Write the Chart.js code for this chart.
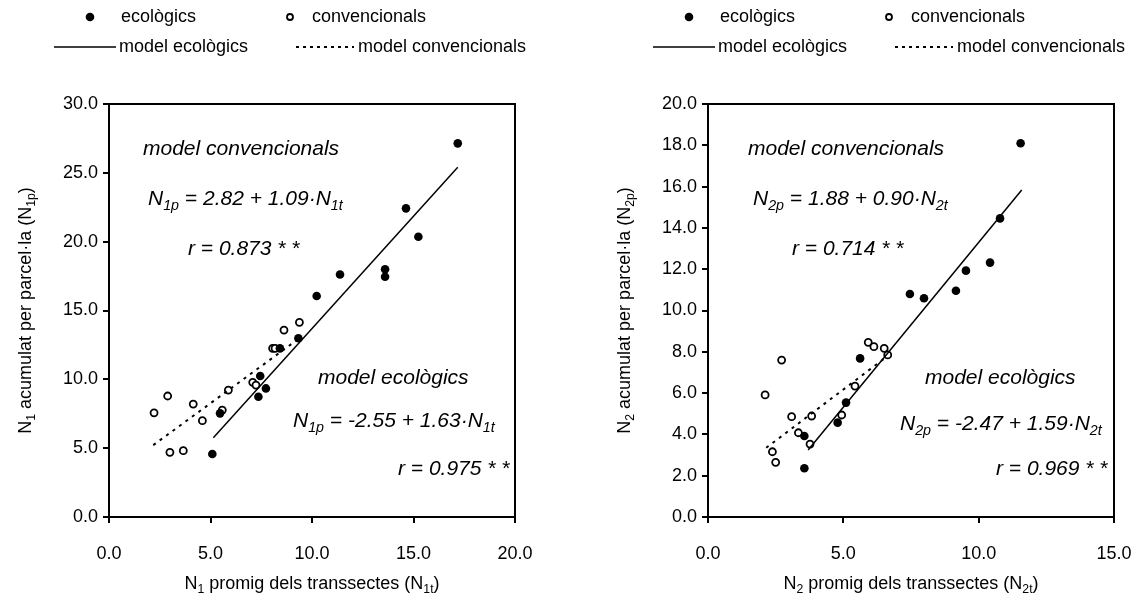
<!DOCTYPE html>
<html><head><meta charset="utf-8">
<script src="https://cdn.jsdelivr.net/npm/chart.js@4.4.1/dist/chart.umd.min.js"></script>
<style>
html,body{margin:0;padding:0;background:#fff;}
body{width:1141px;height:604px;overflow:hidden;position:relative;}
canvas{position:absolute;top:0;}
#cl{left:0;}
#cr{left:570px;}
</style></head><body>
<canvas id="cl" width="570" height="604"></canvas>
<canvas id="cr" width="571" height="604"></canvas>
<script>
// ---------- DATA ----------
// Panel N1
const n1EcoX  = [5.09, 5.47, 7.36, 7.45, 7.73, 8.42, 9.33, 10.23, 11.38, 13.6, 13.6, 14.63, 15.24, 17.18];
const n1EcoY  = [4.58, 7.53, 8.74, 10.24, 9.34, 12.25, 12.98, 16.05, 17.62, 18.0, 17.45, 22.42, 20.36, 27.14];
const n1ConvX = [2.22, 2.89, 3.0, 3.66, 4.15, 4.6, 5.58, 5.88, 7.08, 7.24, 8.06, 8.18, 8.62, 9.38];
const n1ConvY = [7.57, 8.79, 4.70, 4.82, 8.2, 7.0, 7.77, 9.22, 9.78, 9.58, 12.25, 12.25, 13.58, 14.14];
const n1ModelEcoX  = [5.14, 17.18];
const n1ModelEcoY  = [5.75, 25.4];
const n1ModelConvX = [2.18, 9.3];
const n1ModelConvY = [5.22, 12.9];
const n1XTicks = [0, 5, 10, 15, 20];
const n1YTicks = [0, 5, 10, 15, 20, 25, 30];
// Panel N2
const n2EcoX  = [3.56, 3.56, 4.79, 5.10, 5.62, 7.46, 7.98, 9.16, 9.53, 10.42, 10.79, 11.55];
const n2EcoY  = [3.92, 2.36, 4.57, 5.54, 7.68, 10.80, 10.59, 10.96, 11.93, 12.32, 14.46, 18.10];
const n2ConvX = [2.72, 2.11, 3.09, 3.83, 3.34, 3.77, 2.38, 2.50, 4.94, 5.43, 5.92, 6.13, 6.51, 6.64];
const n2ConvY = [7.60, 5.91, 4.86, 4.89, 4.08, 3.53, 3.16, 2.65, 4.94, 6.34, 8.46, 8.25, 8.17, 7.85];
const n2ModelEcoX  = [3.70, 11.59];
const n2ModelEcoY  = [3.24, 15.84];
const n2ModelConvX = [2.15, 6.62];
const n2ModelConvY = [3.35, 7.78];
const n2XTicks = [0, 5, 10, 15];
const n2YTicks = [0, 2, 4, 6, 8, 10, 12, 14, 16, 18, 20];

const legendLabels = ["ecològics", "convencionals", "model ecològics", "model convencionals"];

// ---------- HELPERS ----------
const FAM = '"Liberation Sans", Arial, sans-serif';
const pts = (xs, ys) => xs.map((x, i) => ({x: x, y: ys[i]}));

function drawRich(ctx, x, y, parts, size, italic, align) {
  const f = s => (italic ? 'italic ' : '') + s + 'px ' + FAM;
  let w = 0;
  parts.forEach(([t, sub]) => { ctx.font = f(sub ? size * 0.68 : size); w += ctx.measureText(t).width; });
  let cx = align === 'center' ? x - w / 2 : x;
  ctx.textAlign = 'left';
  ctx.textBaseline = 'alphabetic';
  ctx.fillStyle = '#000';
  parts.forEach(([t, sub]) => {
    ctx.font = f(sub ? size * 0.68 : size);
    ctx.fillText(t, cx, y + (sub ? size * 0.22 : 0));
    cx += ctx.measureText(t).width;
  });
}

const framePlugin = {
  id: 'frame',
  afterDraw(chart) {
    const {ctx, chartArea: a} = chart;
    ctx.save();
    ctx.strokeStyle = '#000';
    ctx.lineWidth = 2;
    ctx.beginPath();
    ctx.moveTo(a.left, a.top); ctx.lineTo(a.right, a.top); ctx.lineTo(a.right, a.bottom);
    ctx.stroke();
    ctx.restore();
  }
};

const textPlugin = {
  id: 'texts',
  afterDraw(chart, args, o) {
    const ctx = chart.ctx;
    ctx.save();
    const d = o.dx;
    ctx.fillStyle = '#000';
    ctx.beginPath(); ctx.arc(90 + d, 17, 4.3, 0, Math.PI * 2); ctx.fill();
    ctx.beginPath(); ctx.arc(290 + d, 17, 3, 0, Math.PI * 2);
    ctx.lineWidth = 1.8; ctx.strokeStyle = '#000'; ctx.stroke();
    ctx.lineWidth = 1.5;
    ctx.beginPath(); ctx.moveTo(54 + d, 47); ctx.lineTo(116 + d, 47); ctx.stroke();
    ctx.setLineDash([3, 4]); ctx.lineWidth = 2;
    ctx.beginPath(); ctx.moveTo(296 + d, 47); ctx.lineTo(354 + d, 47); ctx.stroke();
    ctx.setLineDash([]);
    ctx.font = '18px ' + FAM; ctx.textBaseline = 'middle'; ctx.textAlign = 'left';
    ctx.fillText(legendLabels[0], 121 + d, 17);
    ctx.fillText(legendLabels[1], 312 + d, 17);
    ctx.fillText(legendLabels[2], 119 + d, 47);
    ctx.fillText(legendLabels[3], 358 + d, 47);
    o.notes.forEach(n => drawRich(ctx, n.x, n.y, n.parts, 21, true, 'left'));
    const a = chart.chartArea;
    drawRich(ctx, (a.left + a.right) / 2, 589, o.xTitle, 18, false, 'center');
    ctx.save();
    ctx.translate(o.yTitleX, (a.top + a.bottom) / 2);
    ctx.rotate(-Math.PI / 2);
    drawRich(ctx, 0, 6, o.yTitle, 18, false, 'center');
    ctx.restore();
    ctx.restore();
  }
};

function makePanel(id, cfg) {
  const tickFont = {family: FAM, size: 18};
  return new Chart(document.getElementById(id), {
    type: 'scatter',
    data: {
      datasets: [
        {label: legendLabels[2], data: pts(cfg.mEx, cfg.mEy), showLine: true, borderColor: '#000', borderWidth: 1.5, pointRadius: 0, order: 0},
        {label: legendLabels[3], data: pts(cfg.mCx, cfg.mCy), showLine: true, borderColor: '#000', borderWidth: 2, borderDash: [3, 5], pointRadius: 0, order: 0},
        {label: legendLabels[0], data: pts(cfg.ex, cfg.ey), pointRadius: 4.3, backgroundColor: '#000', borderColor: '#000', borderWidth: 0, order: 1},
        {label: legendLabels[1], data: pts(cfg.cx, cfg.cy), pointRadius: 3.5, backgroundColor: '#fff', borderColor: '#000', borderWidth: 1.8, order: 2}
      ]
    },
    options: {
      responsive: false, animation: false, devicePixelRatio: 1,
      layout: {padding: {left: 0, right: cfg.padR, top: 104, bottom: 0}},
      plugins: {
        legend: {display: false}, tooltip: {enabled: false},
        texts: {dx: cfg.dx, notes: cfg.notes, xTitle: cfg.xTitle, yTitle: cfg.yTitle, yTitleX: cfg.yTitleX}
      },
      scales: {
        x: {
          type: 'linear', min: cfg.xT[0], max: cfg.xT[cfg.xT.length - 1],
          afterBuildTicks: s => { s.ticks = cfg.xT.map(v => ({value: v})); },
          afterFit: s => { s.height = 87; s.paddingLeft = 0; s.paddingRight = 0; },
          ticks: {font: tickFont, color: '#000', padding: 20, maxRotation: 0, callback: v => v.toFixed(1)},
          grid: {drawOnChartArea: false, drawTicks: true, tickLength: 6, color: '#000', lineWidth: 2},
          border: {display: true, color: '#000', width: 2}
        },
        y: {
          type: 'linear', min: cfg.yT[0], max: cfg.yT[cfg.yT.length - 1],
          afterBuildTicks: s => { s.ticks = cfg.yT.map(v => ({value: v})); },
          afterFit: s => { s.width = cfg.yW; s.paddingTop = 0; s.paddingBottom = 0; },
          ticks: {font: tickFont, color: '#000', padding: 5, callback: v => v.toFixed(1)},
          grid: {drawOnChartArea: false, drawTicks: true, tickLength: 6, color: '#000', lineWidth: 2},
          border: {display: true, color: '#000', width: 2}
        }
      }
    },
    plugins: [framePlugin, textPlugin]
  });
}

makePanel('cl', {
  ex: n1EcoX, ey: n1EcoY, cx: n1ConvX, cy: n1ConvY,
  mEx: n1ModelEcoX, mEy: n1ModelEcoY, mCx: n1ModelConvX, mCy: n1ModelConvY,
  xT: n1XTicks, yT: n1YTicks, yW: 109, padR: 55, dx: 0, yTitleX: 25,
  xTitle: [["N", 0], ["1", 1], [" promig dels transsectes (N", 0], ["1t", 1], [")", 0]],
  yTitle: [["N", 0], ["1", 1], [" acumulat per parcel·la (N", 0], ["1p", 1], [")", 0]],
  notes: [
    {x: 143, y: 155, parts: [["model convencionals", 0]]},
    {x: 148, y: 205, parts: [["N", 0], ["1p", 1], [" = 2.82 + 1.09·N", 0], ["1t", 1]]},
    {x: 188, y: 255, parts: [["r = 0.873 * *", 0]]},
    {x: 318, y: 384, parts: [["model ecològics", 0]]},
    {x: 293, y: 427, parts: [["N", 0], ["1p", 1], [" = -2.55 + 1.63·N", 0], ["1t", 1]]},
    {x: 398, y: 475, parts: [["r = 0.975 * *", 0]]}
  ]
});

makePanel('cr', {
  ex: n2EcoX, ey: n2EcoY, cx: n2ConvX, cy: n2ConvY,
  mEx: n2ModelEcoX, mEy: n2ModelEcoY, mCx: n2ModelConvX, mCy: n2ModelConvY,
  xT: n2XTicks, yT: n2YTicks, yW: 138, padR: 27, dx: 29, yTitleX: 54,
  xTitle: [["N", 0], ["2", 1], [" promig dels transsectes (N", 0], ["2t", 1], [")", 0]],
  yTitle: [["N", 0], ["2", 1], [" acumulat per parcel·la (N", 0], ["2p", 1], [")", 0]],
  notes: [
    {x: 178, y: 155, parts: [["model convencionals", 0]]},
    {x: 183, y: 205, parts: [["N", 0], ["2p", 1], [" = 1.88 + 0.90·N", 0], ["2t", 1]]},
    {x: 222, y: 255, parts: [["r = 0.714 * *", 0]]},
    {x: 355, y: 384, parts: [["model ecològics", 0]]},
    {x: 330, y: 430, parts: [["N", 0], ["2p", 1], [" = -2.47 + 1.59·N", 0], ["2t", 1]]},
    {x: 426, y: 475, parts: [["r = 0.969 * *", 0]]}
  ]
});
</script>
</body></html>
